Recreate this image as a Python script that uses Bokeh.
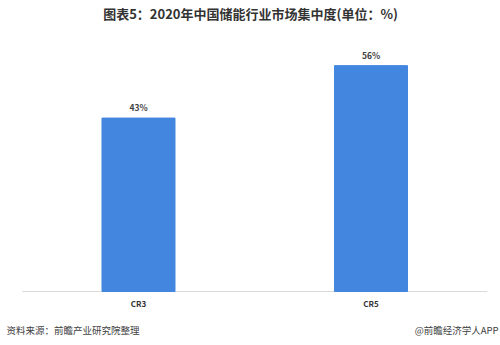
from bokeh.plotting import figure
from bokeh.models import ColumnDataSource, Label, LabelSet, Range1d
from bokeh.core.properties import value
from bokeh.embed import file_html
from bokeh.resources import INLINE

categories = ["CR3", "CR5"]
values = [43, 56]
value_labels = ["43%", "56%"]

title_text = "图表5：2020年中国储能行业市场集中度(单位：%)"
source_text = "资料来源：前瞻产业研究院整理"
brand_text = "@前瞻经济学人APP"

FONT = "Noto Sans CJK SC"
W, H = 500, 345

idx = list(range(len(categories)))
src = ColumnDataSource(dict(x=idx, cat=categories, val=values, lab=value_labels))

p = figure(x_range=Range1d(-0.5935, len(categories) - 1 + 0.557),
           y_range=Range1d(-13.39, 72.15), width=W, height=H,
           output_backend="svg", toolbar_location=None,
           min_border=0, min_border_left=0, min_border_right=0,
           min_border_top=0, min_border_bottom=0)
p.axis.visible = False
p.grid.visible = False
p.outline_line_color = None
p.background_fill_color = "white"
p.border_fill_color = "white"

# baseline (category axis line)
p.segment(x0=[-0.5], y0=[0], x1=[len(categories) - 0.5], y1=[0],
          line_color="#D9D9D9", line_width=1)

p.vbar(x="x", top="val", bottom=0, width=0.314, color="#4286DF", source=src)

p.add_layout(LabelSet(x="x", y="val", text="lab", source=src, y_offset=5,
                      text_align="center", text_baseline="bottom",
                      text_font_size=value("8.5px"), text_font_style=value("bold"),
                      text_color=value("#404040"), text_font=value(FONT)))

# category labels
p.add_layout(LabelSet(x="x", y=0, text="cat", source=src, y_offset=-12,
                      text_align="center", text_baseline="middle",
                      text_font_size=value("8px"), text_font_style=value("bold"),
                      text_color=value("#333333"), text_font=value(FONT)))

p.add_layout(Label(x=W / 2, y=H - 13, x_units="screen", y_units="screen", text=title_text,
                   text_align="center", text_baseline="middle",
                   text_font=FONT, text_font_size="13px", text_font_style="bold",
                   text_color="#333333"))

p.add_layout(Label(x=6, y=H - 329, x_units="screen", y_units="screen", text=source_text,
                   text_baseline="middle",
                   text_font=FONT, text_font_size="9.5px", text_color="#404040"))
p.add_layout(Label(x=W - 2, y=H - 329, x_units="screen", y_units="screen", text=brand_text,
                   text_align="right", text_baseline="middle",
                   text_font=FONT, text_font_size="9.5px", text_color="#404040"))

open("out.html", "w").write(file_html(p, INLINE))
